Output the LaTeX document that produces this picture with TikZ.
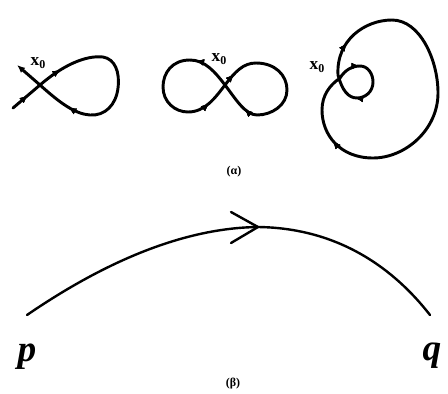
\documentclass[tikz,border=0pt]{standalone}
\usepackage{fontspec}
\setmainfont{Liberation Serif}
\usetikzlibrary{arrows.meta,decorations.markings,calc}
\tikzset{
  curve/.style={line width=2.2pt, line cap=round, line join=round},
  arcline/.style={line width=1.8pt, line cap=round},
  ahead/.style={-{Latex[length=6pt,width=5pt]}},
  marks/.style={postaction=decorate, decoration={markings,
     mark=at position #1 with {\arrow{Latex[length=6pt,width=5pt]}}}},
  lbl/.style={inner sep=0pt, font=\fontsize{13}{13}\selectfont\bfseries},
  figcap/.style={inner sep=0pt, font=\fontsize{9}{9}\selectfont\bfseries},
  ptlbl/.style={inner sep=0pt, font=\fontsize{28}{28}\selectfont\bfseries\itshape}
}
\newcommand{\xz}{x\raisebox{-0.35ex}{\fontsize{9}{9}\selectfont 0}}
\begin{document}
\begin{tikzpicture}[x=0.75pt,y=-0.75pt]
\useasboundingbox (0,0) rectangle (448,393);
% ---------- figure 1: fish loop ----------
\coordinate (c1) at (40,85);
\coordinate (t1a) at (13,108);
\coordinate (t1b) at (17,65);
\draw[curve, marks/.list={0.07,0.22,0.76}, ahead]
  (t1a) -- (c1) .. controls (62,66) and (85,55) .. (103,57)
  .. controls (115,59) and (120,72) .. (118,88)
  .. controls (116,105) and (105,116) .. (90,115)
  .. controls (75,114) and (60,103) .. (c1) -- (t1b);
\node[lbl] (x1) at (38,63) {\xz};
% ---------- figure 2: figure eight ----------
\coordinate (c2) at (225,85);
\draw[curve, marks/.list={0.04,0.41,0.61,0.93}]
  (c2) .. controls (235,72) and (243,63) .. (256,63)
  .. controls (275,63) and (287,75) .. (287,90)
  .. controls (287,105) and (272,115) .. (257,115)
  .. controls (245,115) and (235,98) .. (c2)
  .. controls (215,72) and (205,60) .. (190,60)
  .. controls (172,60) and (163,73) .. (163,87)
  .. controls (163,102) and (175,112) .. (188,112)
  .. controls (205,112) and (215,98) .. (c2);
\node[lbl] (x2) at (219,59) {\xz};
% ---------- figure 3: loop with inner loop ----------
\coordinate (c3) at (338,75);
\draw[curve, marks/.list={0.067,0.65,0.84,0.94}]
  (c3) .. controls (336,40) and (365,20) .. (392,20)
  .. controls (420,20) and (438,60) .. (438,93)
  .. controls (438,130) and (405,158) .. (373,158)
  .. controls (340,158) and (322,135) .. (322,110)
  .. controls (322,95) and (330,85) .. (340,78)
  .. controls (345,70) and (352,66) .. (360,66)
  .. controls (368,66) and (373,74) .. (373,82)
  .. controls (373,92) and (365,98) .. (357,98)
  .. controls (348,98) and (342,90) .. (c3);
\node[lbl] (x3) at (317,67) {\xz};
\node[figcap] (alpha) at (234,172) {(α)};
% ---------- figure beta ----------
\coordinate (p0) at (27,315);
\coordinate (q0) at (430,315);
\coordinate (apex) at (258,227);
\draw[arcline] (p0) .. controls (100,265) and (180,228) .. (apex)
  .. controls (340,228) and (395,270) .. (q0);
\draw[arcline, line join=miter] ($(apex)+(-27,-15)$) -- (apex) -- ($(apex)+(-27,16)$);
\node[ptlbl] (p) at (27,357) {p};
\node[ptlbl] (q) at (432,356) {q};
\node[figcap] (beta) at (233,384) {(β)};
\end{tikzpicture}
\end{document}
